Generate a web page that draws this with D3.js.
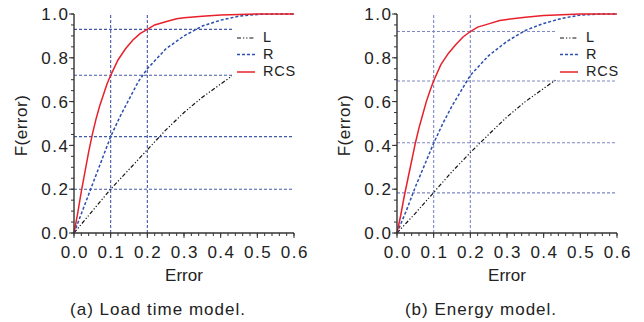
<!DOCTYPE html>
<html>
<head>
<meta charset="utf-8">
<script src="https://cdn.jsdelivr.net/npm/d3@7"></script>
<style>
  body { margin: 0; background: #fff; }
  svg { display: block; font-family: "Liberation Sans", Arial, sans-serif; }
</style>
</head>
<body>
<div id="chart"></div>
<script>
// values
var xTicks = [0, 0.1, 0.2, 0.3, 0.4, 0.5, 0.6];
var yTicks = [0, 0.2, 0.4, 0.6, 0.8, 1.0];
var seriesNames = ["L", "R", "RCS"];
var captions = ["(a) Load time model.", "(b) Energy model."];

var refX = [0.1, 0.2];
var loadRefY = [0.93, 0.72, 0.44, 0.2];
var energyRefY = [0.92, 0.694, 0.412, 0.183];

var loadL = [[0,0],[0.05,0.1],[0.1,0.2],[0.15,0.29],[0.2,0.38],[0.25,0.47],[0.3,0.55],[0.35,0.62],[0.4,0.68],[0.45,0.74],[0.5,0.79],[0.6,0.87]];
var loadR = [[0,0],[0.025,0.11],[0.05,0.22],[0.075,0.33],[0.1,0.44],[0.125,0.53],[0.15,0.61],[0.175,0.69],[0.2,0.75],[0.25,0.84],[0.3,0.9],[0.35,0.945],[0.4,0.972],[0.45,0.99],[0.5,0.998],[0.55,1],[0.6,1]];
var loadRCS = [[0,0],[0.01,0.09],[0.02,0.19],[0.03,0.28],[0.04,0.37],[0.05,0.45],[0.06,0.52],[0.07,0.58],[0.08,0.63],[0.09,0.68],[0.1,0.72],[0.12,0.79],[0.14,0.84],[0.16,0.88],[0.18,0.91],[0.2,0.93],[0.22,0.95],[0.25,0.965],[0.28,0.978],[0.3,0.983],[0.35,0.99],[0.4,0.995],[0.45,0.998],[0.5,1],[0.6,1]];

var energyL = [[0,0],[0.05,0.09],[0.1,0.185],[0.15,0.28],[0.2,0.367],[0.25,0.45],[0.3,0.53],[0.35,0.6],[0.4,0.66],[0.45,0.72],[0.5,0.77],[0.6,0.86]];
var energyR = [[0,0],[0.025,0.1],[0.05,0.21],[0.075,0.31],[0.1,0.41],[0.125,0.5],[0.15,0.58],[0.175,0.65],[0.2,0.72],[0.25,0.81],[0.3,0.875],[0.35,0.925],[0.4,0.957],[0.45,0.98],[0.5,0.995],[0.55,1],[0.6,1]];
var energyRCS = [[0,0],[0.01,0.08],[0.02,0.17],[0.03,0.25],[0.04,0.33],[0.05,0.41],[0.06,0.48],[0.07,0.54],[0.08,0.6],[0.09,0.65],[0.1,0.695],[0.12,0.77],[0.14,0.82],[0.16,0.86],[0.18,0.895],[0.2,0.92],[0.22,0.94],[0.25,0.955],[0.28,0.97],[0.3,0.975],[0.35,0.985],[0.4,0.993],[0.45,0.997],[0.5,1],[0.6,1]];

var W = 644, H = 322;
var styles = {
  L:   { color: "#111", width: 1.2, dash: "4,2,1.2,2,1.2,2" },
  R:   { color: "#2b4fae", width: 1.5, dash: "3,2" },
  RCS: { color: "#e8202a", width: 1.5, dash: null }
};

var svg = d3.select("#chart").append("svg")
  .attr("width", W)
  .attr("height", H);

function panel(x0, series, refY, refColor, caption) {
  var pw = 220, top = 14, bottom = 233;
  var x = d3.scaleLinear().domain([0, 0.6]).range([x0, x0 + pw]);
  var y = d3.scaleLinear().domain([0, 1]).range([bottom, top]);
  var g = svg.append("g");

  // reference lines
  g.selectAll(".vref").data(refX).enter().append("line")
    .attr("x1", d => x(d)).attr("x2", d => x(d))
    .attr("y1", y(0)).attr("y2", y(1))
    .attr("stroke", refColor).attr("stroke-width", 1.1)
    .attr("stroke-dasharray", "3,2");
  g.selectAll(".href").data(refY).enter().append("line")
    .attr("x1", x(0)).attr("x2", x(0.6))
    .attr("y1", d => y(d)).attr("y2", d => y(d))
    .attr("stroke", refColor).attr("stroke-width", 1.1)
    .attr("stroke-dasharray", "3,2");

  var line = d3.line().x(d => x(d[0])).y(d => y(d[1]));
  seriesNames.forEach(function(name, i) {
    var s = styles[name];
    g.append("path")
      .datum(series[i])
      .attr("d", line)
      .attr("fill", "none")
      .attr("stroke", s.color)
      .attr("stroke-width", s.width)
      .attr("stroke-dasharray", s.dash);
  });

  // legend (white box hides what is under it)
  var lg = g.append("g").attr("transform", "translate(" + (x0 + 158) + ",0)");
  lg.append("rect").attr("x", 0).attr("y", 26).attr("width", 70).attr("height", 54).attr("fill", "#fff");
  var legY = [37, 53.5, 71];
  seriesNames.forEach(function(name, i) {
    var s = styles[name];
    lg.append("line")
      .attr("x1", 5).attr("x2", 23)
      .attr("y1", legY[i] + 1).attr("y2", legY[i] + 1)
      .attr("stroke", s.color).attr("stroke-width", s.width)
      .attr("stroke-dasharray", s.dash);
    lg.append("text")
      .attr("x", 31).attr("y", legY[i]).attr("dy", "0.36em")
      .attr("font-size", 14.5).attr("letter-spacing", 0.8).attr("fill", "#222")
      .text(name);
  });

  // axes
  var xAxis = g.append("g").attr("transform", "translate(0," + bottom + ")");
  xAxis.append("line").attr("x1", x(0)).attr("x2", x(0.6)).attr("stroke", "#333").attr("stroke-width", 1.4);
  xAxis.selectAll(".mt").data(d3.range(0, 0.6001, 0.02)).enter().append("line")
    .attr("x1", d => x(d)).attr("x2", d => x(d))
    .attr("y1", 0).attr("y2", 3).attr("stroke", "#333");
  xAxis.selectAll(".Mt").data(xTicks).enter().append("line")
    .attr("x1", d => x(d)).attr("x2", d => x(d))
    .attr("y1", 0).attr("y2", 5).attr("stroke", "#333");
  xAxis.selectAll("text").data(xTicks).enter().append("text")
    .attr("x", d => x(d) + 0.8).attr("y", 25)
    .attr("text-anchor", "middle").attr("font-size", 17)
    .attr("letter-spacing", 1.5).attr("fill", "#222")
    .text(d => d3.format(".1f")(d));

  var yAxis = g.append("g").attr("transform", "translate(" + x0 + ",0)");
  yAxis.append("line").attr("y1", y(0)).attr("y2", y(1)).attr("stroke", "#333").attr("stroke-width", 1.4);
  yAxis.selectAll(".mt").data(d3.range(0, 1.0001, 0.05)).enter().append("line")
    .attr("y1", d => y(d)).attr("y2", d => y(d))
    .attr("x1", 0).attr("x2", -3).attr("stroke", "#333");
  yAxis.selectAll(".Mt").data(yTicks).enter().append("line")
    .attr("y1", d => y(d)).attr("y2", d => y(d))
    .attr("x1", 0).attr("x2", -5).attr("stroke", "#333");
  yAxis.selectAll("text").data(yTicks).enter().append("text")
    .attr("x", -4.5).attr("y", d => y(d)).attr("dy", "0.36em")
    .attr("text-anchor", "end").attr("font-size", 17)
    .attr("letter-spacing", 1.5).attr("fill", "#222")
    .text(d => d3.format(".1f")(d));

  g.append("text")
    .attr("x", x0 + pw / 2).attr("y", 281)
    .attr("text-anchor", "middle").attr("font-size", 17).attr("fill", "#222")
    .text("Error");
  g.append("text")
    .attr("transform", "translate(" + (x0 - 47) + "," + ((top + bottom) / 2 + 2) + ") rotate(-90)")
    .attr("text-anchor", "middle").attr("font-size", 17)
    .attr("letter-spacing", 0.5).attr("fill", "#222")
    .text("F(error)");
  g.append("text")
    .attr("x", x0 + 84).attr("y", 315)
    .attr("text-anchor", "middle").attr("font-size", 17)
    .attr("letter-spacing", 1).attr("fill", "#222")
    .text(caption);
}

panel(74, [loadL, loadR, loadRCS], loadRefY, "#4558a8", captions[0]);
panel(397, [energyL, energyR, energyRCS], energyRefY, "#7f88c6", captions[1]);
</script>
</body>
</html>
